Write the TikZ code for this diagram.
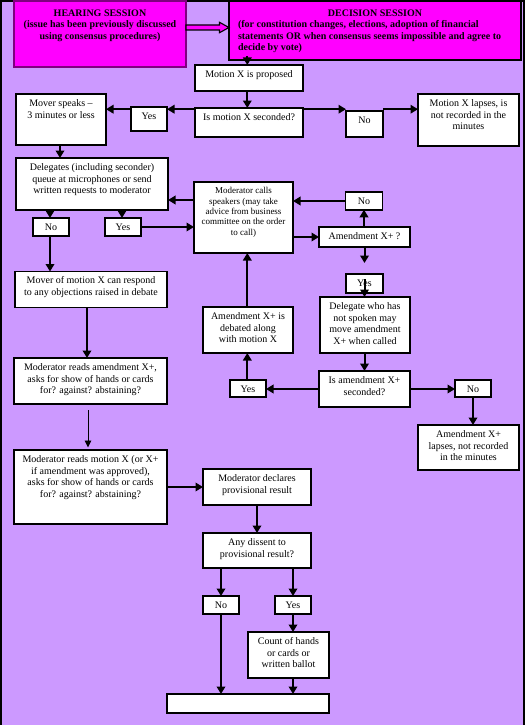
\documentclass[tikz,border=0pt]{standalone}
\usepackage{fontspec}
\setmainfont{Liberation Serif}
\usetikzlibrary{arrows.meta,calc}
\definecolor{bgpurple}{HTML}{CC99FF}
\definecolor{magentabox}{HTML}{FF00FF}
\definecolor{darkpurple}{HTML}{800080}
\newcommand{\tb}[3]{\fontsize{10}{11.8}\selectfont\parbox[c][#2pt][t]{#1pt}{\centering\rule{0pt}{12.3pt}#3\par}}
\newcommand{\tbs}[3]{\fontsize{9}{10.3}\selectfont\parbox[c][#2pt][t]{#1pt}{\centering\rule{0pt}{11.8pt}#3\par}}
\tikzset{
  box/.style={draw=black, fill=white, line width=1.6pt, inner sep=0pt, outer sep=0pt},
  hearbox/.style={draw=darkpurple, fill=magentabox, line width=1.6pt, inner sep=0pt, outer sep=0pt},
  decbox/.style={draw=black, fill=magentabox, line width=2pt, inner sep=0pt, outer sep=0pt},
  arr/.style={line width=2pt, -{Triangle[length=7.5pt,width=8.5pt]}},
  thinarr/.style={line width=0.9pt, -{Triangle[length=7pt,width=6.5pt]}},
  hollow/.style={draw=black, fill=magentabox, line width=1.1pt, line join=miter}
}
\begin{document}
\begin{tikzpicture}[x=1pt,y=-1pt]
\useasboundingbox (0,0) rectangle (525,725);
\fill[bgpurple] (0,0) rectangle (525,725);
\draw[line width=2.4pt] (1.2,740) -- (1.2,0.6) -- (523.8,0.6) -- (523.8,740);

% header boxes
\node[hearbox] (hear) at (100,34) {\parbox[c][66pt][t]{172pt}{\centering\bfseries\fontsize{10}{11.5}\selectfont\rule{0pt}{15.5pt}HEARING SESSION\\(issue has been previously discussed\\using consensus procedures)\par}};
\node[decbox] (dec) at (375,30.5) {\parbox[c][59pt][t]{292pt}{\bfseries\fontsize{10}{11.5}\selectfont\rule{0pt}{15.5pt}{\centering DECISION SESSION\par}\raggedright\leftskip=9pt (for constitution changes, elections, adoption of financial\\statements OR when consensus seems impossible and agree to\\decide by vote)\par}};

% flow boxes
\node[box] (prop) at (249,78) {\tb{108}{26}{Motion X is proposed}};
\node[box] (sec) at (249,122.5) {\tb{108}{29}{Is motion X seconded?}};
\node[box] (yes1) at (149,119) {\tb{36}{24}{Yes}};
\node[box] (no1) at (364.5,124) {\tb{37}{26}{No}};
\node[box] (mover) at (61,119.5) {\tb{90}{51}{Mover speaks –\\3 minutes or less}};
\node[box] (lapse) at (468.5,120) {\tb{101}{52}{Motion X lapses, is\\not recorded in the\\minutes}};
\node[box] (deleg) at (92,184) {\tb{152}{52}{Delegates (including seconder)\\queue at microphones or send\\written requests to moderator}};
\node[box] (modc) at (243.5,217.5) {\tbs{99}{71}{Moderator calls\\speakers (may take\\advice from business\\committee on the order\\to call)}};
\node[box] (no2) at (51,227) {\tb{36}{18}{No}};
\node[box] (yes2) at (123,227) {\tb{36}{18}{Yes}};
\node[box] (no3) at (364,201) {\tb{37}{17.5}{No}};
\node[box] (amd) at (364.5,237) {\tb{91}{20}{Amendment X+ ?}};
\node[box] (yes3) at (364.5,283.5) {\tb{37}{19}{Yes}};
\node[box] (dwho) at (365,325) {\tb{90}{56}{Delegate who has\\not spoken may\\move amendment\\X+ when called}};
\node[box] (isam) at (364.5,389) {\tb{91}{36}{Is amendment X+\\seconded?}};
\node[box] (yes4) at (248,388.5) {\tb{36}{17}{Yes}};
\node[box] (debated) at (248,330) {\tb{90}{46}{Amendment X+ is\\debated along\\with motion X}};
\node[box] (no4) at (473,388.5) {\tb{36}{17}{No}};
\node[box] (alapse) at (468.5,447.5) {\tb{101}{45}{Amendment X+\\lapses, not recorded\\in the minutes}};
\node[box] (mresp) at (91,289.5) {\tb{152}{36}{Mover of motion X can respond\\to any objections raised in debate}};
\node[box] (mramd) at (90.5,381) {\tb{153}{46}{Moderator reads amendment X+,\\asks for show of hands or cards\\for? against? abstaining?}};
\node[box] (mrmot) at (90.5,487) {\tb{153}{74}{Moderator reads motion X (or X+\\if amendment was approved),\\asks for show of hands or cards\\for? against? abstaining?}};
\node[box] (mdecl) at (257,487) {\tb{108}{36}{Moderator declares\\provisional result}};
\node[box] (dis) at (257,550.5) {\tb{108}{35}{Any dissent to\\provisional result?}};
\node[box] (no5) at (221,605) {\tb{36}{18}{No}};
\node[box] (yes5) at (293,605) {\tb{36}{18}{Yes}};
\node[box] (count) at (288.5,655) {\tb{81}{46}{Count of hands\\or cards or\\written ballot}};
\node[box] (final) at (248,703.5) {\tb{162}{19}{}};

% hollow arrow hearing -> decision
\coordinate (ha) at ($(hear.north east)+(0,26.5)$);
\coordinate (hb) at (dec.west |- ha);
\draw[hollow] ($(ha)+(0,-2.5)$) -- ($(hb)+(-9.5,-2.5)$) -- ($(hb)+(-9.5,-5.2)$) -- (hb)
  -- ($(hb)+(-9.5,5.2)$) -- ($(hb)+(-9.5,2.5)$) -- ($(ha)+(0,2.5)$) -- cycle;

% connectors
\draw[arr] ($(dec.south -| prop.north)+(-1.7,-4)$) -- ($(prop.north)+(-1.7,0)$);
\draw[arr] ($(prop.south)+(-1.7,0)$) -- ($(sec.north)+(-1.7,0)$);
\coordinate (r1) at ($(sec.north west)+(0,1.2)$);
\draw[arr] (r1) -- (r1 -| yes1.east);
\draw[arr] (r1 -| yes1.west) -- (r1 -| mover.east);
\draw[arr] (r1 -| sec.east) -- (r1 -| no1.west);
\draw[arr] (r1 -| no1.east) -- (r1 -| lapse.west);
\draw[arr] ($(mover.south)+(-1,0)$) -- ($(deleg.north -| mover.south)+(-1,0)$);
\coordinate (r2) at ($(modc.north west)+(0,18)$);
\draw[arr] (r2) -- (r2 -| deleg.east);
\draw[arr] ($(deleg.south -| no2.north)+(-1,0)$) -- ($(no2.north)+(-1,0)$);
\draw[arr] ($(deleg.south -| yes2.north)+(-1,0)$) -- ($(yes2.north)+(-1,0)$);
\draw[arr] (yes2.east) -- (yes2.east -| modc.west);
\draw[arr] (no3.west) -- (no3.west -| modc.east);
\draw[arr] (amd.west -| modc.east) -- (amd.west);
\draw[arr] (amd.north -| no3.south) -- (no3.south);
\coordinate (amdend) at ($(amd.south)+(0,16)$);
\draw[arr] (amd.south) -- (amdend);
\draw[arr] ($(yes3.north)+(0,5)$) -- (yes3.north |- dwho.north);
\draw[arr] (dwho.south -| isam.north) -- (isam.north);
\draw[arr] (isam.west) -- (isam.west -| yes4.east);
\draw[arr] ($(yes4.north)+(-0.7,0)$) -- ($(yes4.north |- debated.south)+(-0.7,0)$);
\draw[arr] ($(debated.north)+(-0.7,0)$) -- ($(debated.north |- modc.south)+(-0.7,0)$);
\draw[arr] (isam.east) -- (isam.east -| no4.west);
\draw[arr] (no4.south) -- (no4.south |- alapse.north);
\draw[arr] ($(no2.south)+(-1,0)$) -- ($(no2.south |- mresp.north)+(-1,0)$);
\draw[arr] ($(mresp.south)+(-4,0)$) -- ($(mresp.south |- mramd.north)+(-4,0)$);
\draw[thinarr] ($(mramd.south)+(-2.5,6)$) -- ($(mrmot.north)+(-2.5,-2.5)$);
\draw[arr] (mrmot.east) -- (mrmot.east -| mdecl.west);
\draw[arr] (mdecl.south) -- (dis.north);
\draw[arr] (dis.south -| no5.north) -- (no5.north);
\draw[arr] (dis.south -| yes5.north) -- (yes5.north);
\draw[arr] (yes5.south) -- (yes5.south |- count.north);
\draw[arr] (count.south -| yes5.south) -- (yes5.south |- final.north);
\draw[arr] (no5.south) -- (no5.south |- final.north);
\end{tikzpicture}
\end{document}
